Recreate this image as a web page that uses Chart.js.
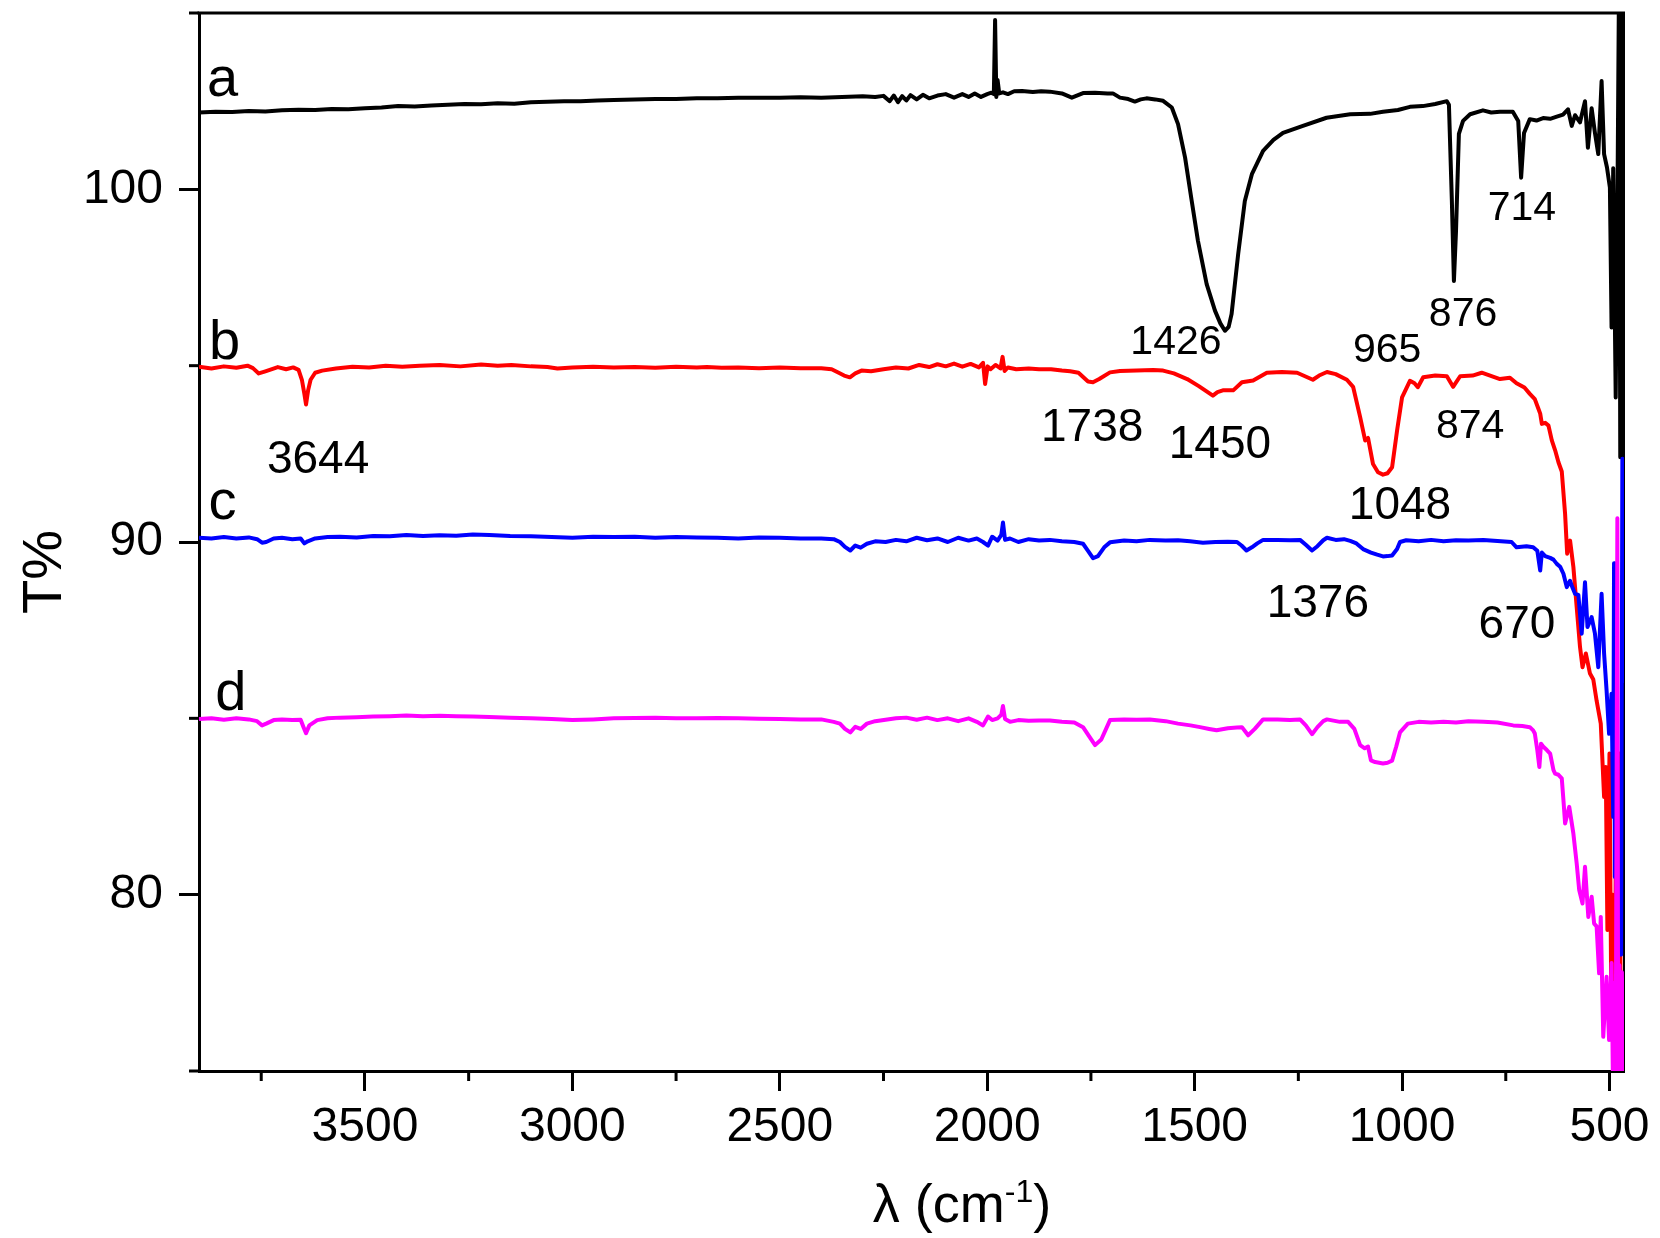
<!DOCTYPE html>
<html>
<head>
<meta charset="utf-8">
<script src="https://cdn.jsdelivr.net/npm/chart.js@4.4.0/dist/chart.umd.min.js"></script>
<style>
  html, body { margin: 0; padding: 0; background: #fff; }
  #wrap { width: 1660px; height: 1238px; }
</style>
</head>
<body>
<div id="wrap"><canvas id="ftir" width="1660" height="1238"></canvas></div>
<script>
// wavenumber (cm-1) / transmittance (T%)
const waveA = [3900, 3860, 3820, 3780, 3740, 3700, 3660, 3620, 3580, 3540, 3500, 3460, 3420, 3380, 3340, 3300, 3260, 3220, 3180, 3140, 3100, 3060, 3020, 2980, 2940, 2900, 2850, 2800, 2750, 2700, 2650, 2600, 2550, 2500, 2450, 2400, 2350, 2300, 2270, 2250, 2235, 2225, 2215, 2205, 2195, 2185, 2170, 2155, 2140, 2120, 2100, 2080, 2060, 2045, 2030, 2015, 2000, 1990, 1984, 1981, 1978, 1975, 1971, 1962, 1950, 1935, 1916, 1890, 1870, 1849, 1820, 1796, 1769, 1740, 1710, 1697, 1680, 1660, 1644, 1630, 1616, 1595, 1576, 1555, 1540, 1523, 1507, 1492, 1471, 1451, 1438, 1427, 1418, 1411, 1395, 1379, 1362, 1335, 1310, 1287, 1239, 1182, 1125, 1077, 1046, 1010, 981, 950, 920, 892, 887, 880, 875, 870, 863, 853, 836, 805, 785, 764, 733, 720, 713, 706, 692, 676, 660, 643, 627, 612, 600, 591, 583, 571, 559, 552, 543, 535, 527, 519, 513, 506, 499, 495, 491, 485, 481, 477, 474, 471, 468, 466];
const transA = [102.18, 102.2, 102.19, 102.22, 102.21, 102.24, 102.26, 102.25, 102.28, 102.27, 102.3, 102.32, 102.36, 102.35, 102.38, 102.4, 102.42, 102.41, 102.44, 102.43, 102.47, 102.48, 102.5, 102.5, 102.52, 102.53, 102.55, 102.56, 102.56, 102.58, 102.58, 102.6, 102.6, 102.6, 102.61, 102.6, 102.62, 102.64, 102.62, 102.65, 102.5, 102.66, 102.47, 102.64, 102.52, 102.67, 102.55, 102.68, 102.58, 102.66, 102.7, 102.6, 102.7, 102.62, 102.72, 102.62, 102.7, 102.74, 102.7, 104.8, 102.62, 103.1, 102.72, 102.75, 102.7, 102.78, 102.79, 102.76, 102.78, 102.77, 102.72, 102.6, 102.73, 102.74, 102.72, 102.72, 102.6, 102.56, 102.49, 102.55, 102.58, 102.55, 102.51, 102.32, 101.85, 100.9, 99.67, 98.54, 97.31, 96.56, 96.2, 95.99, 96.1, 96.46, 98.17, 99.67, 100.43, 101.09, 101.4, 101.6, 101.8, 102.03, 102.13, 102.14, 102.2, 102.25, 102.34, 102.36, 102.42, 102.5, 102.4, 99.7, 97.4, 98.8, 101.57, 101.94, 102.13, 102.24, 102.18, 102.2, 102.2, 101.94, 100.33, 101.6, 101.99, 101.95, 102.02, 102.0, 102.06, 102.12, 102.27, 101.8, 102.1, 101.9, 102.5, 101.18, 102.3, 101.6, 101.0, 103.07, 101.0, 100.62, 100.05, 96.08, 100.6, 94.1, 99.3, 106, 92.4, 106, 92.4, 106];

const waveB = [3900, 3870, 3840, 3810, 3783, 3770, 3756, 3740, 3710, 3690, 3673, 3660, 3652, 3646, 3642, 3637, 3631, 3620, 3603, 3570, 3530, 3490, 3450, 3410, 3368, 3320, 3270, 3220, 3180, 3147, 3100, 3060, 3036, 3000, 2950, 2900, 2850, 2800, 2750, 2700, 2676, 2640, 2600, 2550, 2500, 2450, 2400, 2375, 2358, 2345, 2331, 2318, 2303, 2280, 2250, 2220, 2190, 2164, 2140, 2120, 2100, 2080, 2060, 2040, 2020, 2010, 2005, 1999, 1992, 1980, 1968, 1963, 1958, 1950, 1930, 1900, 1875, 1846, 1820, 1800, 1780, 1757, 1745, 1730, 1704, 1680, 1640, 1600, 1576, 1550, 1518, 1490, 1456, 1445, 1432, 1407, 1386, 1359, 1326, 1290, 1253, 1215, 1200, 1181, 1160, 1133, 1118, 1101, 1089, 1082, 1070, 1058, 1046, 1035, 1024, 1012, 1000, 981, 970, 962, 949, 920, 892, 877, 860, 830, 808, 764, 740, 724, 705, 692, 680, 672, 667, 663, 655, 647, 639, 631, 623, 615, 607, 602, 595, 587, 579, 571, 565, 557, 547, 539, 531, 521, 513, 509, 505, 500, 496, 492, 488, 484, 480, 476, 472];
const transB = [94.97, 94.92, 94.98, 94.94, 95.0, 94.93, 94.78, 94.84, 94.96, 94.9, 94.95, 94.88, 94.6, 94.2, 93.9, 94.3, 94.6, 94.8, 94.86, 94.92, 94.97, 94.95, 95.0, 94.97, 95.0, 95.02, 94.98, 95.03, 95.0, 95.02, 94.98, 94.96, 94.92, 94.95, 94.97, 94.95, 94.96, 94.94, 94.97, 94.95, 94.96, 94.94, 94.95, 94.93, 94.95, 94.93, 94.93, 94.9, 94.8, 94.72, 94.67, 94.78, 94.86, 94.84, 94.9, 94.95, 94.92, 95.02, 94.96, 95.04, 94.98, 95.06, 94.97, 95.05, 94.95, 95.08, 94.48, 94.98, 94.9, 95.02, 94.92, 95.25, 94.85, 94.95, 94.9, 94.92, 94.9, 94.9, 94.86, 94.84, 94.8, 94.55, 94.53, 94.62, 94.81, 94.85, 94.86, 94.88, 94.86, 94.78, 94.62, 94.42, 94.15, 94.25, 94.3, 94.3, 94.53, 94.58, 94.8, 94.82, 94.8, 94.6, 94.72, 94.82, 94.76, 94.6, 94.4, 93.54, 92.88, 92.95, 92.21, 91.98, 91.91, 91.95, 92.12, 93.16, 94.1, 94.57, 94.5, 94.39, 94.67, 94.72, 94.7, 94.4, 94.7, 94.72, 94.8, 94.62, 94.66, 94.5, 94.38, 94.2, 94.05, 93.8, 93.64, 93.35, 93.38, 93.3, 92.88, 92.6, 92.26, 92.0, 90.8, 89.67, 90.04, 89.29, 88.15, 87.02, 86.45, 86.84, 86.27, 86.1, 85.5, 84.85, 82.77, 83.62, 79.0, 84.0, 77.5, 80.0, 74.0, 83.0, 74.0, 84.0, 74.0];

const waveC = [3900, 3870, 3840, 3810, 3780, 3760, 3748, 3738, 3720, 3700, 3675, 3655, 3646, 3638, 3620, 3590, 3560, 3520, 3480, 3440, 3400, 3360, 3320, 3280, 3240, 3200, 3150, 3100, 3050, 3000, 2950, 2900, 2850, 2800, 2750, 2700, 2650, 2600, 2550, 2500, 2450, 2400, 2370, 2355, 2343, 2330, 2318, 2305, 2290, 2270, 2245, 2220, 2195, 2170, 2145, 2120, 2095, 2070, 2045, 2025, 2010, 1998, 1988, 1975, 1966, 1962, 1957, 1945, 1925, 1900, 1875, 1849, 1820, 1790, 1769, 1757, 1745, 1733, 1718, 1704, 1670, 1640, 1608, 1570, 1540, 1511, 1480, 1450, 1420, 1398, 1387, 1375, 1362, 1349, 1335, 1300, 1270, 1246, 1232, 1217, 1204, 1190, 1181, 1160, 1140, 1125, 1110, 1094, 1075, 1060, 1046, 1035, 1024, 1012, 1005, 990, 960, 930, 900, 870, 840, 804, 770, 736, 724, 700, 684, 674, 667, 663, 655, 643, 635, 627, 619, 611, 603, 595, 589, 583, 575, 567, 559, 553, 543, 535, 527, 519, 513, 507, 501, 495, 491, 489, 487, 484, 481, 478, 475, 472, 469, 466];
const transC = [90.12, 90.1, 90.14, 90.1, 90.13, 90.08, 89.98, 90.0, 90.1, 90.12, 90.08, 90.1, 89.96, 90.02, 90.1, 90.14, 90.15, 90.13, 90.17, 90.16, 90.2, 90.17, 90.19, 90.18, 90.21, 90.2, 90.17, 90.16, 90.14, 90.12, 90.15, 90.14, 90.15, 90.12, 90.14, 90.13, 90.12, 90.1, 90.13, 90.12, 90.1, 90.1, 90.08, 90.0, 89.86, 89.76, 89.9, 89.84, 89.95, 90.02, 90.0, 90.06, 90.02, 90.12, 90.05, 90.1, 90.0, 90.12, 90.04, 90.1, 90.0, 89.9, 90.15, 90.04, 90.2, 90.55, 90.06, 90.1, 90.0, 90.08, 90.04, 90.06, 90.02, 90.0, 89.95, 89.75, 89.54, 89.6, 89.85, 89.99, 90.04, 90.02, 90.06, 90.04, 90.05, 90.02, 89.98, 90.0, 90.01, 90.0, 89.9, 89.76, 89.85, 89.96, 90.06, 90.06, 90.05, 90.06, 89.92, 89.76, 89.88, 90.05, 90.12, 90.06, 90.08, 90.03, 89.96, 89.8, 89.7, 89.64, 89.59, 89.6, 89.62, 89.8, 90.0, 90.05, 90.02, 90.06, 90.02, 90.05, 90.04, 90.06, 90.03, 90.0, 89.85, 89.88, 89.85, 89.75, 89.19, 89.7, 89.6, 89.55, 89.5, 89.38, 89.3, 89.1, 88.72, 88.9, 88.7, 88.53, 88.5, 87.4, 88.86, 87.59, 87.87, 87.4, 86.45, 88.53, 86.84, 85.79, 84.56, 85.7, 82.2, 89.4, 80.5, 82.5, 79.0, 80.5, 78.5, 78.3, 92.36, 86.0];

const waveD = [3900, 3870, 3840, 3810, 3780, 3760, 3748, 3738, 3720, 3700, 3675, 3655, 3648, 3642, 3634, 3615, 3590, 3560, 3520, 3480, 3440, 3400, 3360, 3320, 3280, 3240, 3200, 3150, 3100, 3050, 3000, 2950, 2900, 2850, 2800, 2750, 2700, 2650, 2600, 2550, 2500, 2450, 2400, 2370, 2355, 2343, 2330, 2318, 2305, 2290, 2270, 2245, 2220, 2195, 2170, 2145, 2120, 2095, 2070, 2045, 2025, 2010, 1998, 1988, 1975, 1966, 1962, 1957, 1945, 1925, 1900, 1875, 1849, 1820, 1790, 1769, 1755, 1740, 1725, 1704, 1670, 1640, 1608, 1570, 1540, 1510, 1487, 1465, 1447, 1420, 1398, 1386, 1371, 1355, 1335, 1300, 1270, 1246, 1232, 1217, 1204, 1190, 1181, 1150, 1130, 1115, 1101, 1090, 1082, 1075, 1065, 1046, 1035, 1024, 1014, 1005, 986, 960, 930, 900, 870, 840, 804, 770, 732, 710, 692, 684, 680, 674, 669, 665, 660, 651, 643, 635, 631, 623, 615, 611, 607, 597, 587, 579, 573, 565, 559, 551, 543, 537, 531, 525, 521, 515, 507, 501, 495, 491, 488, 486, 484, 481, 479, 476, 473, 470, 467];
const transD = [84.98, 85.0, 84.96, 85.0, 84.97, 84.92, 84.8, 84.85, 84.95, 84.97, 84.95, 84.96, 84.75, 84.58, 84.8, 84.95, 85.0, 85.02, 85.03, 85.05, 85.06, 85.08, 85.06, 85.07, 85.06, 85.05, 85.04, 85.02, 85.0, 84.98, 84.95, 84.97, 85.0, 85.01, 85.02, 85.0, 85.0, 85.01, 85.0, 84.99, 84.98, 84.97, 84.97, 84.9, 84.85, 84.7, 84.6, 84.76, 84.7, 84.85, 84.92, 84.96, 85.0, 85.02, 84.96, 85.02, 84.95, 85.0, 84.92, 85.0, 84.9, 84.8, 85.05, 84.95, 85.0, 85.1, 85.35, 84.98, 84.9, 84.95, 84.93, 84.94, 84.94, 84.9, 84.88, 84.75, 84.5, 84.24, 84.4, 84.95, 84.97, 84.96, 84.97, 84.92, 84.85, 84.8, 84.75, 84.7, 84.66, 84.72, 84.74, 84.75, 84.52, 84.7, 84.97, 84.97, 84.95, 84.97, 84.8, 84.55, 84.75, 84.92, 84.97, 84.9, 84.9, 84.7, 84.24, 84.15, 84.2, 83.81, 83.76, 83.72, 83.74, 83.8, 84.2, 84.6, 84.85, 84.9, 84.88, 84.9, 84.88, 84.92, 84.9, 84.88, 84.8, 84.78, 84.75, 84.66, 84.57, 84.1, 83.62, 84.28, 84.2, 84.1, 84.0, 83.53, 83.43, 83.4, 83.3, 82.68, 82.02, 82.49, 81.73, 80.88, 80.13, 79.75, 80.79, 79.37, 79.94, 79.18, 79.1, 77.77, 79.37, 75.97, 77.67, 75.88, 78.06, 74.0, 77.5, 74.0, 78.2, 90.67, 74.0, 78.0, 74.0, 77.8, 74.0];

// axis ticks
const xMajor = [3500, 3000, 2500, 2000, 1500, 1000, 500];
const xMinor = [3750, 3250, 2750, 2250, 1750, 1250, 750];
const yMajor = [80, 90, 100];
const yMinor = [75, 85, 95, 105];

// annotations: curve letters and band positions
const curveNames = ['a', 'b', 'c', 'd'];
const curveX = [3881, 3876, 3877, 3861];
const curveY = [102.65, 95.2, 90.64, 85.25];

const bandText = ['714', '876', '1426', '965', '3644', '1738', '1450', '874', '1048', '1376', '670'];
const bandX = [711, 853, 1545, 1036, 3613, 1747, 1439, 836, 1005, 1203, 723];
const bandY = [99.14, 96.13, 95.32, 95.11, 91.97, 92.87, 92.39, 92.96, 90.64, 87.86, 87.29];
const bandBig = [false, false, false, false, true, true, true, false, true, true, true];

const FONT = '"Liberation Sans", Arial, sans-serif';

const toPoints = (xs, ys) => xs.map((x, i) => ({ x: x, y: ys[i] }));

const extras = {
  id: 'extras',
  beforeDatasetsDraw(chart) {
    const { ctx, chartArea: a, scales: { x, y } } = chart;
    ctx.save();
    ctx.strokeStyle = '#000';
    ctx.lineWidth = 3;
    ctx.beginPath();
    ctx.moveTo(a.left - 1.5, a.top);
    ctx.lineTo(a.right + 1, a.top);
    ctx.stroke();
    ctx.lineWidth = 2;
    ctx.beginPath();
    ctx.moveTo(a.right, a.top);
    ctx.lineTo(a.right, a.bottom);
    ctx.stroke();
    // minor ticks, half length
    ctx.lineWidth = 3;
    xMinor.forEach(v => {
      const px = x.getPixelForValue(v);
      ctx.beginPath(); ctx.moveTo(px, a.bottom); ctx.lineTo(px, a.bottom + 10); ctx.stroke();
    });
    yMinor.forEach(v => {
      const py = y.getPixelForValue(v);
      ctx.beginPath(); ctx.moveTo(a.left, py); ctx.lineTo(a.left - 10, py); ctx.stroke();
    });
    ctx.restore();
  },
  afterDatasetsDraw(chart) {
    const { ctx, scales: { x, y } } = chart;
    ctx.save();
    ctx.fillStyle = '#000';
    ctx.textBaseline = 'alphabetic';
    ctx.textAlign = 'left';
    ctx.font = '56px ' + FONT;
    curveNames.forEach((t, i) => {
      ctx.fillText(t, x.getPixelForValue(curveX[i]), y.getPixelForValue(curveY[i]));
    });
    ctx.textAlign = 'center';
    bandText.forEach((t, i) => {
      ctx.font = (bandBig[i] ? '46px ' : '41px ') + FONT;
      ctx.fillText(t, x.getPixelForValue(bandX[i]), y.getPixelForValue(bandY[i]));
    });
    ctx.restore();
  },
  afterDraw(chart) {
    const { ctx } = chart;
    ctx.save();
    ctx.fillStyle = '#000';
    // y title
    ctx.font = '56px ' + FONT;
    ctx.textAlign = 'center';
    ctx.textBaseline = 'alphabetic';
    ctx.translate(61, 572);
    ctx.rotate(-Math.PI / 2);
    ctx.fillText('T%', 0, 0);
    ctx.restore();

    // x title with superscript
    ctx.save();
    ctx.fillStyle = '#000';
    ctx.textBaseline = 'alphabetic';
    ctx.textAlign = 'left';
    const big = '54px ' + FONT, small = '32px ' + FONT;
    ctx.font = big;
    const w1 = ctx.measureText('\u03bb (cm').width;
    const w3 = ctx.measureText(')').width;
    ctx.font = small;
    const w2 = ctx.measureText('-1').width;
    let x0 = 962 - (w1 + w2 + w3) / 2;
    const base = 1222;
    ctx.font = big;
    ctx.fillText('\u03bb (cm', x0, base);
    ctx.font = small;
    ctx.fillText('-1', x0 + w1, base - 20);
    ctx.font = big;
    ctx.fillText(')', x0 + w1 + w2, base);
    ctx.restore();
  }
};

const lineStyle = { pointRadius: 0, borderWidth: 4, tension: 0, fill: false, clip: 0, borderJoinStyle: 'round' };

new Chart(document.getElementById('ftir'), {
  type: 'line',
  data: {
    datasets: [
      Object.assign({ label: 'a', data: toPoints(waveA, transA), borderColor: '#000000', order: 4 }, lineStyle),
      Object.assign({ label: 'b', data: toPoints(waveB, transB), borderColor: '#ff0000', order: 3 }, lineStyle),
      Object.assign({ label: 'c', data: toPoints(waveC, transC), borderColor: '#0000ff', order: 2 }, lineStyle),
      Object.assign({ label: 'd', data: toPoints(waveD, transD), borderColor: '#ff00ff', order: 1 }, lineStyle)
    ]
  },
  options: {
    responsive: false,
    animation: false,
    devicePixelRatio: 1,
    layout: { padding: { top: 13, right: 36, left: 0, bottom: 0 } },
    plugins: {
      legend: { display: false },
      tooltip: { enabled: false },
      title: { display: false }
    },
    scales: {
      x: {
        type: 'linear',
        reverse: true,
        min: 465,
        max: 3900,
        afterBuildTicks: s => { s.ticks = xMajor.map(v => ({ value: v })); },
        afterFit: s => { s.height = 167; s.paddingLeft = 0; s.paddingRight = 0; },
        grid: { drawOnChartArea: false, drawTicks: true, tickLength: 20, tickWidth: 3, tickColor: '#000' },
        border: { display: true, width: 3, color: '#000' },
        ticks: { autoSkip: false, maxRotation: 0, padding: 8, color: '#000', font: { family: FONT, size: 48 }, callback: v => String(v) }
      },
      y: {
        type: 'linear',
        min: 75,
        max: 105,
        afterBuildTicks: s => { s.ticks = yMajor.map(v => ({ value: v })); },
        afterFit: s => { s.width = 199; s.paddingTop = 0; s.paddingBottom = 0; },
        grid: { drawOnChartArea: false, drawTicks: true, tickLength: 20, tickWidth: 3, tickColor: '#000' },
        border: { display: true, width: 3, color: '#000' },
        ticks: { padding: 16, color: '#000', font: { family: FONT, size: 48 }, callback: v => String(v) }
      }
    }
  },
  plugins: [extras]
});
</script>
</body>
</html>
